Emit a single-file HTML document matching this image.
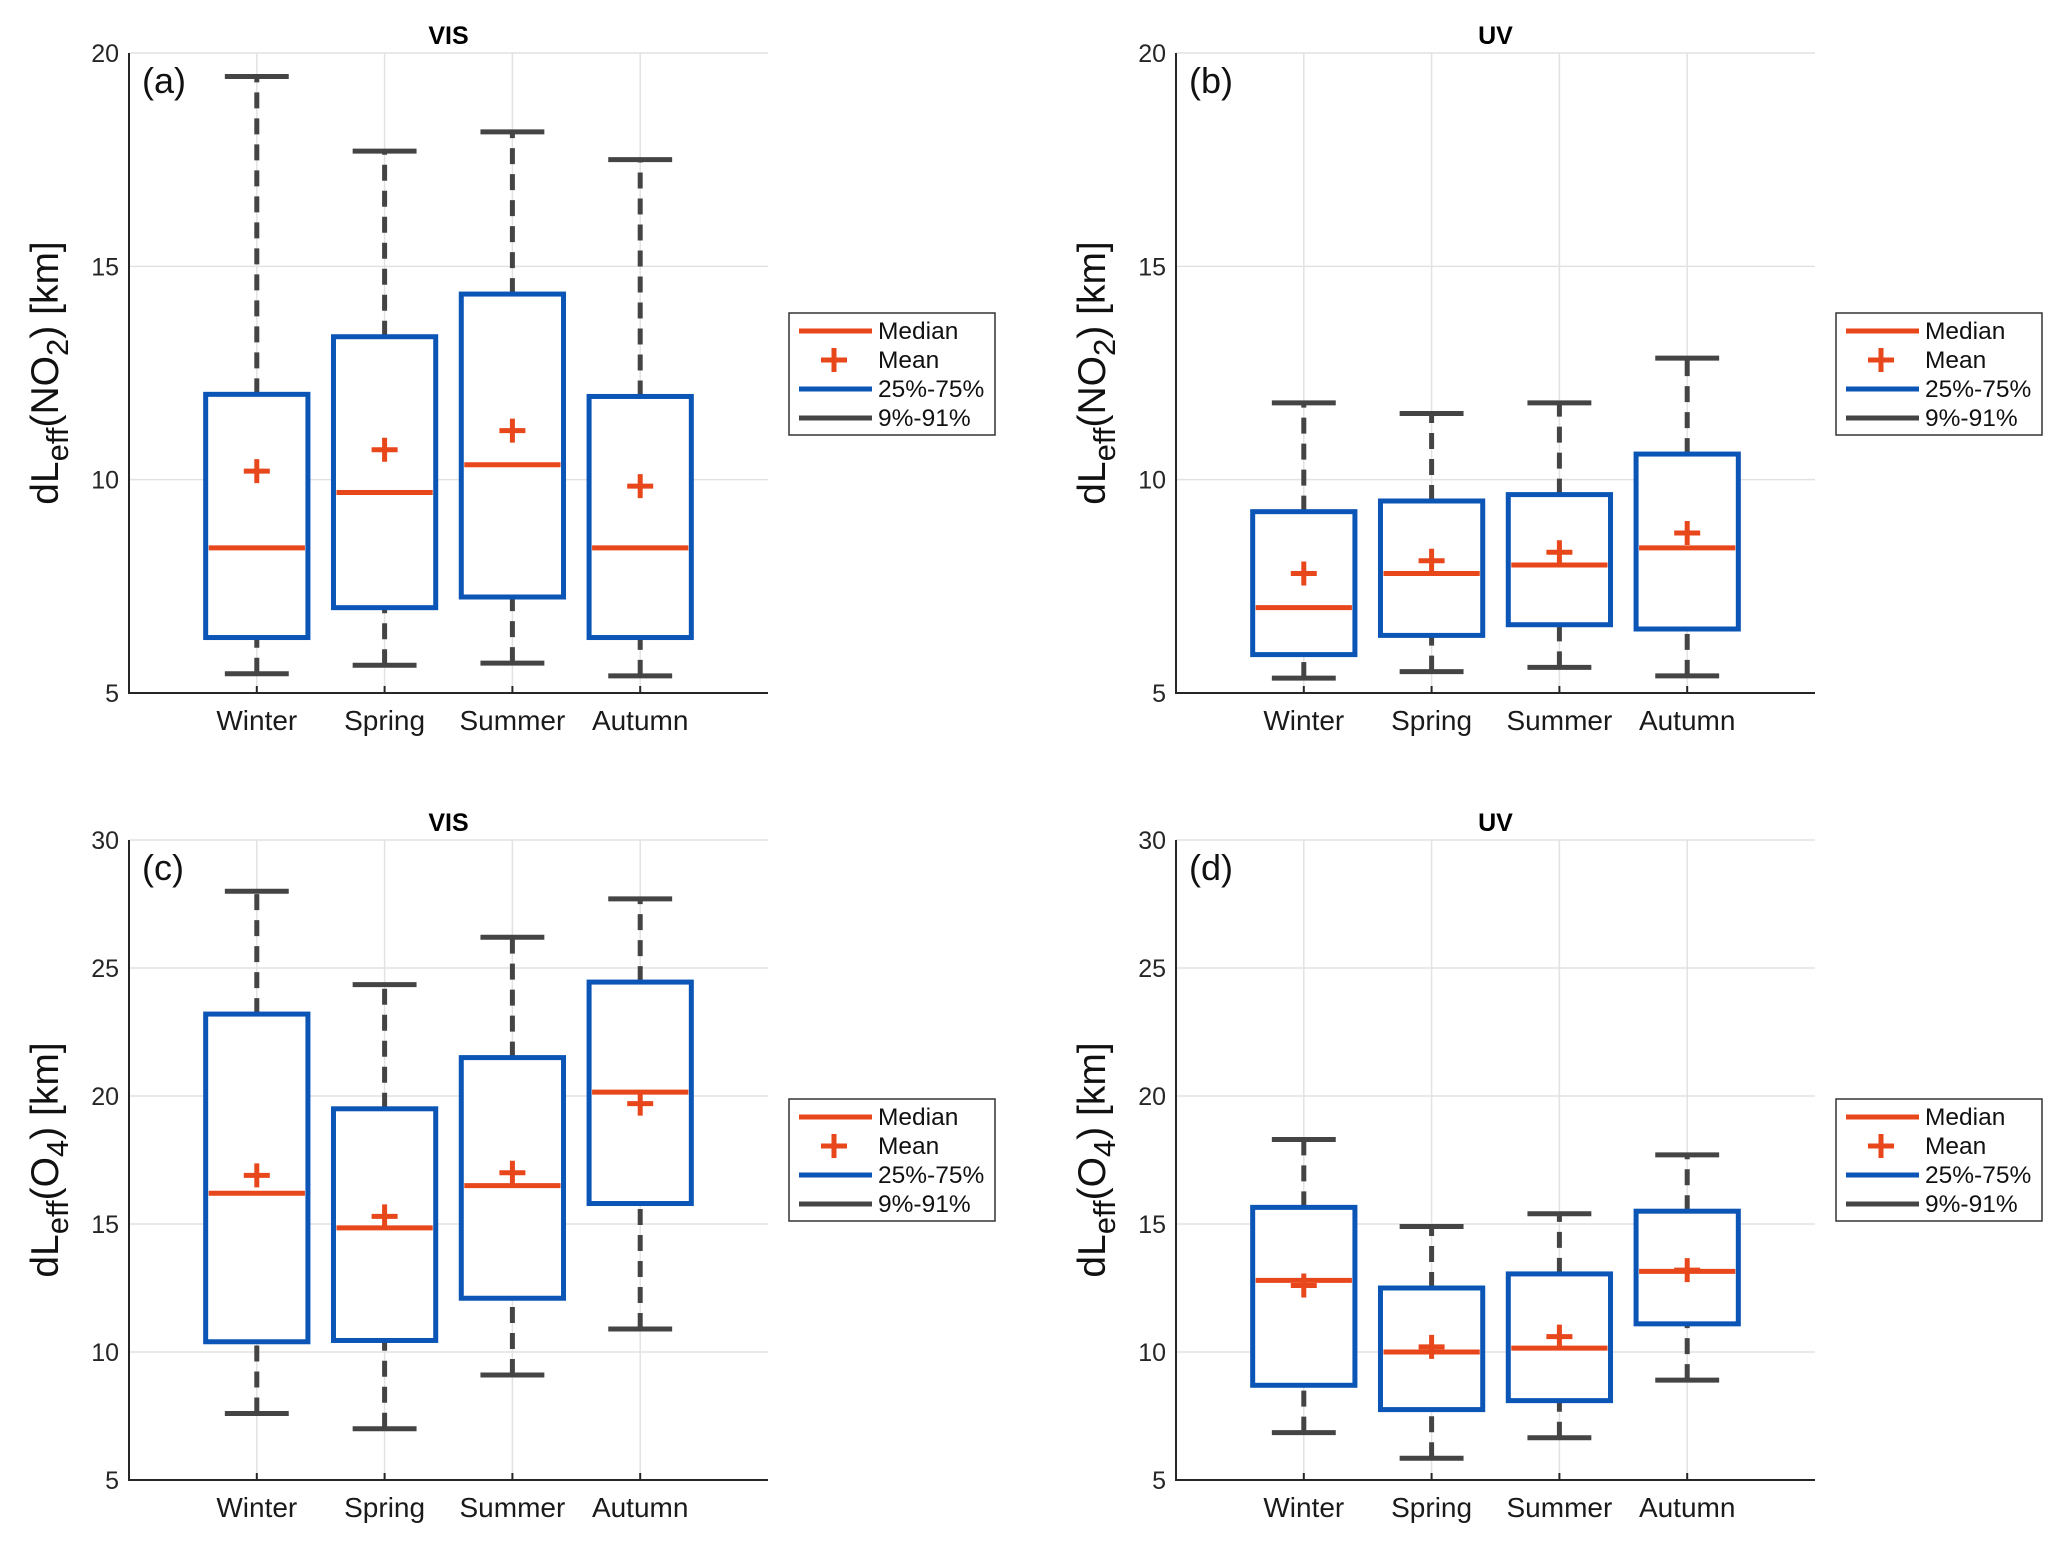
<!DOCTYPE html>
<html><head><meta charset="utf-8"><style>
html,body{margin:0;padding:0;background:#fff;}
svg{display:block;font-family:"Liberation Sans",sans-serif;}
</style></head><body>
<svg id="fig" width="2068" height="1547" viewBox="0 0 2068 1547"></svg>
<script>
const categories = ["Winter","Spring","Summer","Autumn"];
// each: [whiskerLow, q1, median, mean, q3, whiskerHigh]
const panelA = [[5.45,6.3,8.4,10.2,12.0,19.45],[5.65,7.0,9.7,10.7,13.35,17.7],[5.7,7.25,10.35,11.15,14.35,18.15],[5.4,6.3,8.4,9.85,11.95,17.5]];
const panelB = [[5.35,5.9,7.0,7.8,9.25,11.8],[5.5,6.35,7.8,8.1,9.5,11.55],[5.6,6.6,8.0,8.3,9.65,11.8],[5.4,6.5,8.4,8.75,10.6,12.85]];
const panelC = [[7.6,10.4,16.2,16.9,23.2,28.0],[7.0,10.45,14.85,15.3,19.5,24.35],[9.1,12.1,16.5,17.0,21.5,26.2],[10.9,15.8,20.15,19.7,24.45,27.7]];
const panelD = [[6.85,8.7,12.8,12.6,15.65,18.3],[5.85,7.75,10.0,10.2,12.5,14.9],[6.65,8.1,10.15,10.6,13.05,15.4],[8.9,11.1,13.15,13.2,15.5,17.7]];
const ticksNO2 = [5,10,15,20];
const ticksO4 = [5,10,15,20,25,30];
const legendLabels = ["Median","Mean","25%-75%","9%-91%"];

const NS="http://www.w3.org/2000/svg";
const svg=document.getElementById('fig');
function mk(tag,attrs,parent){const e=document.createElementNS(NS,tag);for(const k in attrs)e.setAttribute(k,attrs[k]);(parent||svg).appendChild(e);return e;}
const ORANGE="#e8461b",BLUE="#0a55b5",GRAY="#444444";

function panel(cfg){
  const g=mk('g',{});
  
  
  const L=cfg.x0,R=cfg.x0+639,T=cfg.y0,B=cfg.y0+640;
  const ymin=cfg.ticks[0],ymax=cfg.ticks[cfg.ticks.length-1];
  const sy=v=>B-(v-ymin)/(ymax-ymin)*(B-T);
  const sx=i=>L+(i+1)*(R-L)/5;
  cfg.ticks.forEach(t=>{
    const l=mk('line',{x1:L,x2:R,y1:sy(t),y2:sy(t),stroke:"#e2e2e2","stroke-width":1.5},g);
    
    
    const tx=mk('text',{x:L-10,y:sy(t)+9,"text-anchor":"end","font-size":25,fill:"#262626"},g);
    tx.textContent=t;
    
    
  });
  categories.forEach((c,i)=>{
    const l=mk('line',{x1:sx(i),x2:sx(i),y1:T,y2:B,stroke:"#e2e2e2","stroke-width":1.5},g);
    
    
    mk('line',{x1:sx(i),x2:sx(i),y1:B,y2:B-7,stroke:"#262626","stroke-width":2},g);
    const tx=mk('text',{x:sx(i),y:B+37,"text-anchor":"middle","font-size":28,fill:"#1a1a1a"},g);
    tx.textContent=c;
    
    
  });
  const ax=mk('path',{d:`M${L},${T}V${B}H${R}`,fill:"none",stroke:"#262626","stroke-width":2},g);
  
  
  const ti=mk('text',{x:(L+R)/2,y:T-9,"text-anchor":"middle","font-size":25,"font-weight":"bold"},g);
  ti.textContent=cfg.title;
  
  
  const lt=mk('text',{x:L+13,y:T+40,"font-size":36,fill:"#111"},g);
  lt.textContent="("+cfg.letter+")";
  
  
  const yl=mk('text',{transform:`translate(${cfg.ylx},${(T+B)/2}) rotate(-90)`,"text-anchor":"middle","font-size":39,fill:"#111"},g);
  yl.innerHTML=`dL<tspan dy="10" font-size="31">eff</tspan><tspan dy="-10">(${cfg.sp}</tspan><tspan dy="10" font-size="31">${cfg.sub}</tspan><tspan dy="-10">)  [km]</tspan>`;
  
  
  const bw=(R-L)/5*0.8, cw=(R-L)/5*0.5;
  cfg.data.forEach((d,i)=>{
    const x=sx(i);
    const bg=mk('g',{},g);
    
    
    mk('line',{x1:x,x2:x,y1:sy(d[0]),y2:sy(d[1]),stroke:GRAY,"stroke-width":5,"stroke-dasharray":"16 10"},bg);
    mk('line',{x1:x,x2:x,y1:sy(d[4]),y2:sy(d[5]),stroke:GRAY,"stroke-width":5,"stroke-dasharray":"16 10"},bg);
    mk('line',{x1:x-cw/2,x2:x+cw/2,y1:sy(d[0]),y2:sy(d[0]),stroke:GRAY,"stroke-width":5},bg);
    mk('line',{x1:x-cw/2,x2:x+cw/2,y1:sy(d[5]),y2:sy(d[5]),stroke:GRAY,"stroke-width":5},bg);
    mk('rect',{x:x-bw/2,y:sy(d[4]),width:bw,height:sy(d[1])-sy(d[4]),fill:"#fff",stroke:BLUE,"stroke-width":5},bg);
    mk('line',{x1:x-bw/2+3,x2:x+bw/2-3,y1:sy(d[2]),y2:sy(d[2]),stroke:ORANGE,"stroke-width":5},bg);
    const m=sy(d[3]);
    mk('path',{d:`M${x-13},${m}H${x+13}M${x},${m-12}V${m+12}`,stroke:ORANGE,"stroke-width":5},bg);
  });
  const lg=mk('g',{},g);
  
  
  const lx=cfg.lx,ly=cfg.ly;
  mk('rect',{x:lx,y:ly,width:206,height:122,fill:"#fff",stroke:"#333","stroke-width":1.5},lg);
  legendLabels.forEach((lab,k)=>{
    const yy=ly+18+k*29;
    const e=mk('g',{},lg);
    
    
    if(k===1){mk('path',{d:`M${lx+32},${yy}H${lx+58}M${lx+45},${yy-12}V${yy+12}`,stroke:ORANGE,"stroke-width":5},e);}
    else mk('line',{x1:lx+10,x2:lx+83,y1:yy,y2:yy,stroke:[ORANGE,null,BLUE,GRAY][k],"stroke-width":5},e);
    const t=mk('text',{x:lx+89,y:yy+8,"font-size":24.5,fill:"#111"},e);
    t.textContent=lab;
  });
}
panel({letter:"a",title:"VIS",x0:129,y0:53,ticks:ticksNO2,data:panelA,ylx:58,sp:"NO",sub:"2",lx:789,ly:313});
panel({letter:"b",title:"UV",x0:1176,y0:53,ticks:ticksNO2,data:panelB,ylx:1105,sp:"NO",sub:"2",lx:1836,ly:313});
panel({letter:"c",title:"VIS",x0:129,y0:840,ticks:ticksO4,data:panelC,ylx:58,sp:"O",sub:"4",lx:789,ly:1099});
panel({letter:"d",title:"UV",x0:1176,y0:840,ticks:ticksO4,data:panelD,ylx:1105,sp:"O",sub:"4",lx:1836,ly:1099});
</script>
</body></html>
